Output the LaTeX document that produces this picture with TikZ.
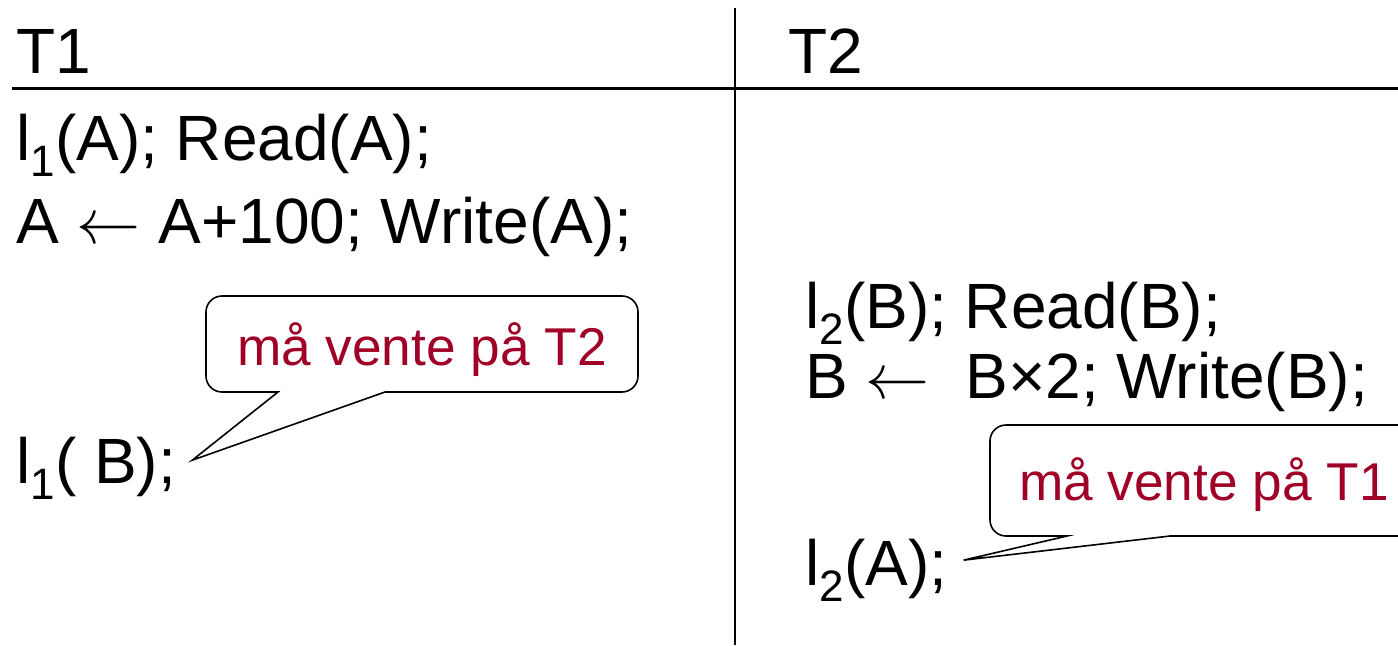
\RequirePackage{fix-cm}
\documentclass[tikz,border=0pt]{standalone}
\usepackage{fontspec}
\setmainfont{Liberation Sans}
\definecolor{warnred}{RGB}{160,0,40}
\newcommand{\lck}[1]{l\raisebox{-0.26em}{\fontsize{22}{22}\selectfont #1}}
\tikzset{
  stmt/.style={anchor=base west, inner sep=0pt, font=\fontsize{32}{36}\selectfont},
  note/.style={anchor=base, inner sep=0pt, text=warnred, font=\fontsize{26.6}{30}\selectfont},
  bubble/.style={draw, line width=0.8pt, fill=white},
}
\begin{document}
\begin{tikzpicture}[x=0.5pt, y=-0.5pt]
  \useasboundingbox (0,0) rectangle (1398,645);
  % columns
  \draw[line width=0.8pt] (735,8) -- (735,645);
  \draw[line width=1.5pt] (12,88) -- (1398,88);
  \node[stmt] (t1) at (16,73) {T1};
  \node[stmt] (t2) at (788,73) {T2};
  % T1
  \node[stmt] (a1) at (16,160) {\lck{1}(A); Read(A);};
  \node[stmt] (a2) at (16,243) {A $\leftarrow$ A+100; Write(A);};
  \node[stmt] (a3) at (16,483) {\lck{1}( B);};
  % T2
  \node[stmt] (b1) at (805,328) {\lck{2}(B); Read(B);};
  \node[stmt] (b2) at (805,398) {B $\leftarrow$\ \ B×2; Write(B);};
  \node[stmt] (b3) at (805,585) {\lck{2}(A);};
  % callouts
  \coordinate (tipA) at ([xshift=8pt, yshift=4pt]a3.east);
  \coordinate (tipB) at ([xshift=8pt, yshift=5pt]b3.east);
  \draw[bubble] (278,392) -- (tipA) -- (385,392) [rounded corners=8pt] -- (638,392)
    -- (638,296) -- (206,296) -- (206,392) [sharp corners] -- cycle;
  \node[note] (n1) at (422,365) {må vente på T2};
  \draw[bubble] (1067,536) -- (tipB) -- (1170,536) [rounded corners=8pt] -- (1420,536)
    -- (1420,425) -- (990,425) -- (990,536) [sharp corners] -- cycle;
  \node[note] (n2) at (1204,500) {må vente på T1};
\end{tikzpicture}
\end{document}
